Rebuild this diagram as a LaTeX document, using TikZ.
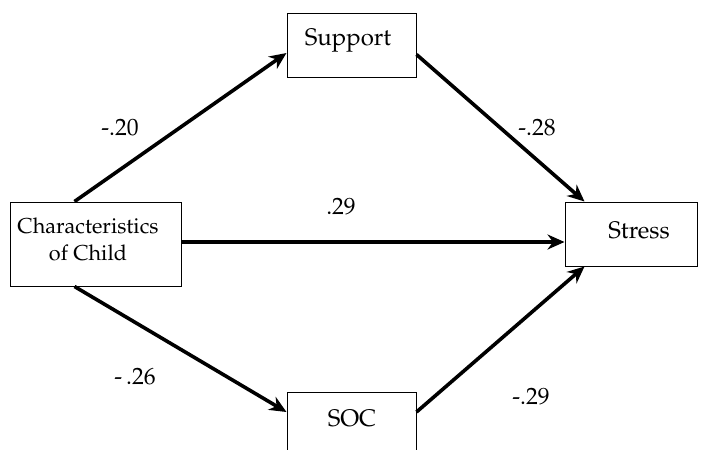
\documentclass[tikz,border=0pt]{standalone}
\usepackage[T1]{fontenc}
\usepackage{mathpazo}
\usetikzlibrary{arrows.meta}
\tikzset{
  box/.style={draw, line width=0.5pt, inner sep=0pt, align=center},
  txt/.style={inner sep=0pt, align=center, font=\fontsize{10.8}{13.5}\selectfont},
  bigtxt/.style={inner sep=0pt, align=center, font=\fontsize{12}{14}\selectfont},
  coef/.style={inner sep=0pt, font=\fontsize{11.8}{14}\selectfont},
  path/.style={line width=1.8pt, -{Stealth[length=8.5pt, width=7.5pt]}},
}
\begin{document}
\begin{tikzpicture}[x=0.5pt, y=-0.5pt]
\useasboundingbox (0,0) rectangle (702,450);
\clip (0,0) rectangle (702,450);
% boxes
\node[box, minimum width=85.5pt, minimum height=42pt] (char) at (95.5,244) {};
\node[txt] at (88,239) {Characteristics\\of Child};
\node[box, minimum width=64.5pt, minimum height=32pt] (sup) at (351.5,45) {};
\node[bigtxt] at (348,41) {Support};
\node[box, minimum width=66pt, minimum height=32pt] (str) at (631,234) {};
\node[bigtxt] at (639,230) {Stress};
\node[box, minimum width=64.5pt, minimum height=36pt] (soc) at (351.5,428) {};
\node[bigtxt] at (352,418) {SOC};
% arrows
\draw[path] ([xshift=32.5pt]char.north west) -- ([yshift=-4pt]sup.west);
\draw[path] ([yshift=-21pt]sup.north east) -- ([xshift=10pt]str.north west);
\draw[path] ([yshift=1pt]char.east) -- ([yshift=-4pt]str.west);
\draw[path] ([xshift=32.5pt]char.south west) -- ([yshift=8pt]soc.west);
\draw[path] ([yshift=8pt]soc.east) -- ([xshift=10pt]str.south west);
% coefficients
\node[coef] (c1) at (120,128) {-.20};
\node[coef] (c2) at (537,128) {-.28};
\node[coef] (c3) at (341,207) {.29};
\node[coef] (c4) at (135,377) {-\,.26};
\node[coef] (c5) at (531,397) {-.29};
\end{tikzpicture}
\end{document}
